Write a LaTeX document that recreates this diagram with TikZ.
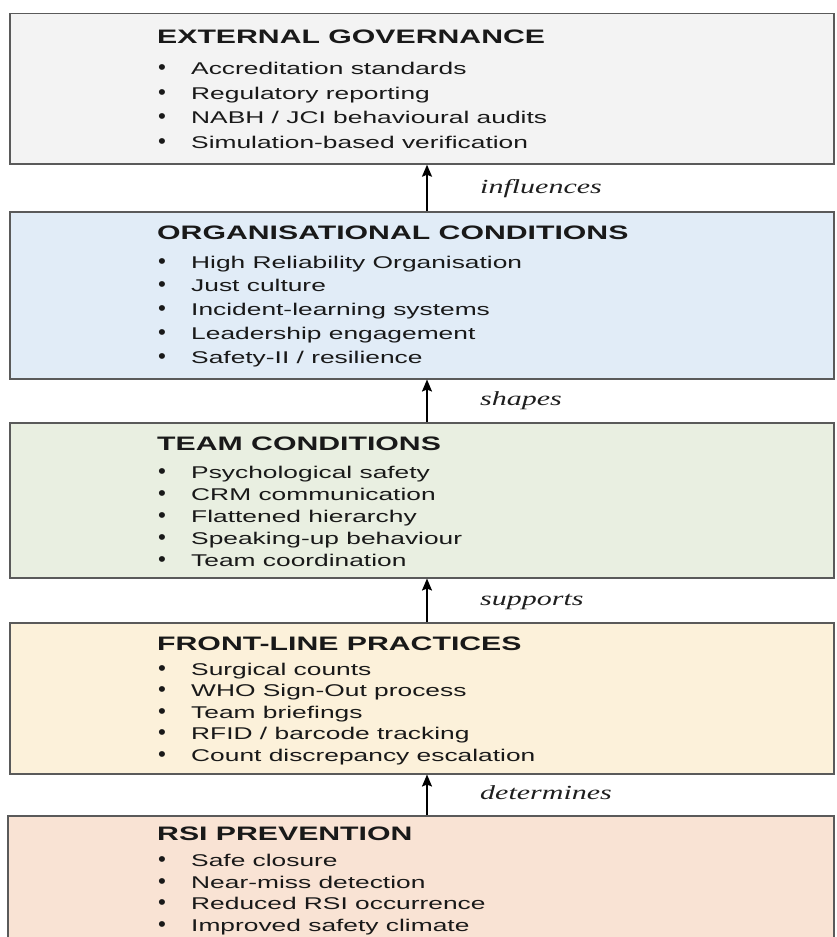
\documentclass[tikz,border=0pt]{standalone}
\usepackage{fontspec}
\usepackage{graphicx}
\setmainfont{Liberation Sans}[FakeStretch=1.55]
\newfontfamily\lblfont{Liberation Serif}[FakeStretch=1.5]
\usetikzlibrary{arrows.meta}
\definecolor{fillA}{HTML}{F3F3F3}
\definecolor{fillB}{HTML}{E1ECF7}
\definecolor{fillC}{HTML}{E9EFE1}
\definecolor{fillD}{HTML}{FCF1DA}
\definecolor{fillE}{HTML}{F9E3D4}
\definecolor{edgeC}{HTML}{5A5A5A}
\newcommand\ttl[1]{{\fontsize{19.5}{20}\selectfont\bfseries #1}}
\newcommand\bul{\makebox[34pt][l]{\hspace{1pt}\scalebox{0.85}[1.25]{•}}}
\tikzset{
  layerbox/.style={draw=edgeC, line width=1.5pt, rectangle, inner sep=0pt, anchor=north west},
  txt/.style={anchor=base west, inner sep=0pt, align=left, text=black!90},
  lbl/.style={anchor=base west, inner sep=0pt, font=\lblfont\itshape\fontsize{20}{22}\selectfont, text=black!88},
  arr/.style={draw=black, line width=1.7pt, -{Stealth[length=12pt,width=10pt,inset=2pt]}}
}
\begin{document}
\begin{tikzpicture}[x=1pt,y=-1pt]
\useasboundingbox (0,0) rectangle (836,937);
\clip (0,0) rectangle (836,937);
% boxes
\node[layerbox, fill=fillA, minimum width=824pt, minimum height=150.5pt] (b1) at (9,12.7) {};
\node[layerbox, fill=fillB, minimum width=824pt, minimum height=167pt] (b2) at (9,211) {};
\node[layerbox, fill=fillC, minimum width=824pt, minimum height=155pt] (b3) at (9,422) {};
\node[layerbox, fill=fillD, minimum width=824pt, minimum height=151pt] (b4) at (9,622) {};
\node[layerbox, fill=fillE, minimum width=826pt, minimum height=140pt] (b5) at (7,815) {};
% texts (anchored at the baseline of their last line)
\node[txt, font=\fontsize{17}{24.5}\selectfont] (t1) at (157,148) {\ttl{EXTERNAL GOVERNANCE}\\[6.5pt]
\bul Accreditation standards\\
\bul Regulatory reporting\\
\bul NABH / JCI behavioural audits\\
\bul Simulation-based verification};
\node[txt, font=\fontsize{17}{23.7}\selectfont] (t2) at (157,363) {\ttl{ORGANISATIONAL CONDITIONS}\\[5.3pt]
\bul High Reliability Organisation\\
\bul Just culture\\
\bul Incident-learning systems\\
\bul Leadership engagement\\
\bul Safety-II / resilience};
\node[txt, font=\fontsize{17}{22}\selectfont] (t3) at (157,566) {\ttl{TEAM CONDITIONS}\\[6pt]
\bul Psychological safety\\
\bul CRM communication\\
\bul Flattened hierarchy\\
\bul Speaking-up behaviour\\
\bul Team coordination};
\node[txt, font=\fontsize{17}{21.5}\selectfont] (t4) at (157,761) {\ttl{FRONT-LINE PRACTICES}\\[3.5pt]
\bul Surgical counts\\
\bul WHO Sign-Out process\\
\bul Team briefings\\
\bul RFID / barcode tracking\\
\bul Count discrepancy escalation};
\node[txt, font=\fontsize{17}{21.5}\selectfont] (t5) at (157,931) {\ttl{RSI PREVENTION}\\[4.5pt]
\bul Safe closure\\
\bul Near-miss detection\\
\bul Reduced RSI occurrence\\
\bul Improved safety climate};
% arrows
\coordinate (ax) at (427,0);
\draw[arr] (b2.north -| ax) -- (b1.south -| ax);
\draw[arr] (b3.north -| ax) -- (b2.south -| ax);
\draw[arr] (b4.north -| ax) -- (b3.south -| ax);
\draw[arr] (b5.north -| ax) -- (b4.south -| ax);
% labels
\node[lbl] (l1) at (480,193) {influences};
\node[lbl] (l2) at (480,405) {shapes};
\node[lbl] (l3) at (480,605) {supports};
\node[lbl] (l4) at (480,799) {determines};
\end{tikzpicture}
\end{document}
